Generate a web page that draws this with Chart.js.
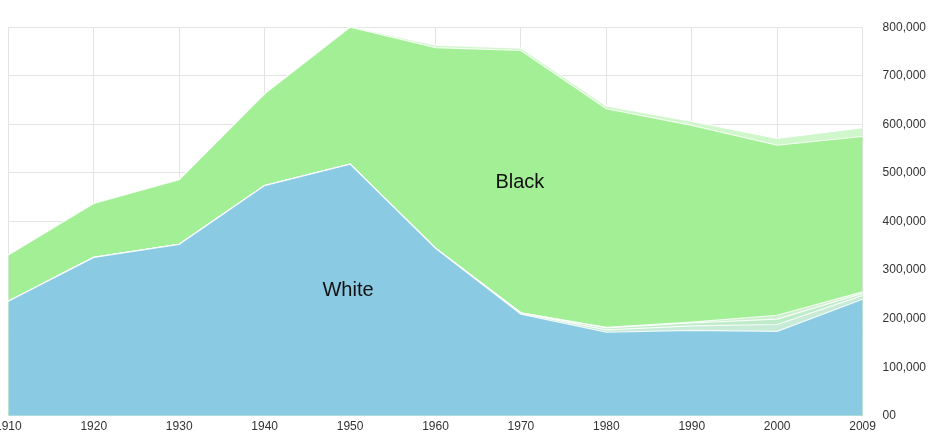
<!DOCTYPE html>
<html><head><meta charset="utf-8">
<script src="https://cdn.jsdelivr.net/npm/chart.js@4"></script>
<style>html,body{margin:0;padding:0;background:#fff;overflow:hidden}#w{width:957px;height:443px;margin-left:-9px}</style>
</head><body><div id="w"><canvas id="c"></canvas></div>
<script>
const years = ["1910","1920","1930","1940","1950","1960","1970","1980","1990","2000","2009"];
const white = [236000,326000,353000,474000,518000,345000,209000,172000,176000,174000,240000];
const asian = [0,0,0,0,0,0,2000,5000,9000,14000,8000];
const hispanic = [0,0,0,0,0,0,1000,4000,6000,11000,4000];
const otherLow = [0,0,0,0,0,0,0,1000,2000,8000,3000];
const black = [95000,111000,133000,189000,282000,413000,540000,450000,405000,350000,320000];
const otherTop = [0,0,0,0,2000,5000,5000,6000,8000,14000,18000];
const yTicks = [0,100000,200000,300000,400000,500000,600000,700000,800000];

const mk = (label, data, bg) => ({label, data, backgroundColor: bg, borderColor: 'rgba(255,255,255,0.85)', borderWidth: 1.2, fill: true, pointRadius: 0, tension: 0});
const labelsPlugin = {
  id: 'areaLabels',
  afterDatasetsDraw(chart) {
    const {ctx, scales:{x, y}} = chart;
    ctx.save();
    ctx.font = '20px "Liberation Sans", Arial, sans-serif';
    ctx.fillStyle = '#111';
    ctx.textAlign = 'center'; ctx.textBaseline = 'middle';
    ctx.fillText('White', x.getPixelForValue(4) - 2, y.getPixelForValue(258000));
    ctx.fillText('Black', x.getPixelForValue(6) - 1, y.getPixelForValue(481000));
    ctx.restore();
  }
};
new Chart(document.getElementById('c'), {
  type: 'line',
  data: { labels: years, datasets: [
    mk('White', white, '#8acae2'),
    mk('Asian', asian, 'rgba(200,235,215,0.9)'),
    mk('Hispanic', hispanic, 'rgba(190,235,200,0.9)'),
    mk('Other', otherLow, 'rgba(210,240,210,0.9)'),
    mk('Black', black, '#a2ef96'),
    mk('Other races', otherTop, 'rgba(205,245,200,0.95)')
  ]},
  options: {
    responsive: true, maintainAspectRatio: false, animation: false,
    layout: { padding: { top: 5, right: 2, left: 0, bottom: 0 } },
    plugins: { legend: { display: false }, tooltip: { enabled: false } },
    scales: {
      x: { offset: false, grid: { color: '#e4e4e4', drawTicks: false }, border: { display: false },
           ticks: { autoSkip: false, maxRotation: 0, color: '#333', padding: 4, font: { family: '"Liberation Sans", Arial', size: 12 } } },
      y: { stacked: true, position: 'right', min: 0, max: 800000,
           afterBuildTicks: s => { s.ticks = yTicks.map(v => ({value: v})); },
           grid: { color: '#e4e4e4', drawTicks: false }, border: { display: false },
           ticks: { color: '#333', padding: 20, font: { family: '"Liberation Sans", Arial', size: 12 },
             callback: v => v === 0 ? '00' : v.toLocaleString('en-US') } }
    }
  },
  plugins: [labelsPlugin]
});
</script></body></html>
